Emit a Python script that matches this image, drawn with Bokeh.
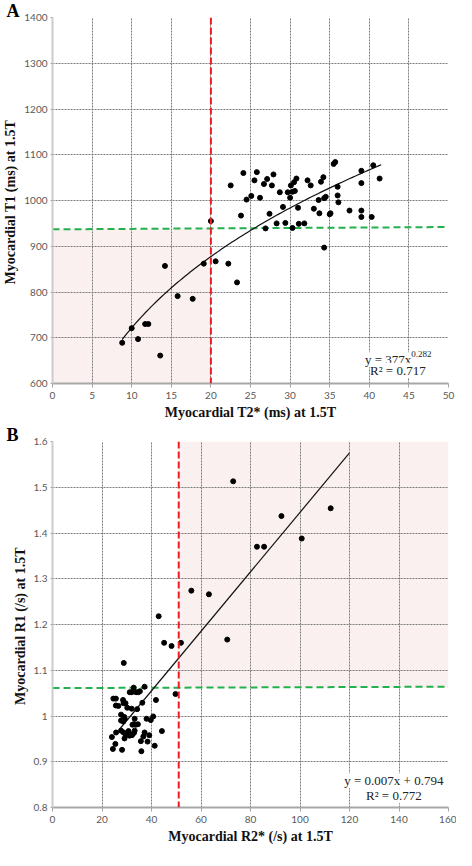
import numpy as np
from bokeh.plotting import figure
from bokeh.layouts import column
from bokeh.models import Label, FixedTicker, Range1d, Span
from bokeh.embed import file_html
from bokeh.resources import INLINE

# ---------------- Panel A data: T2* (ms) vs T1 (ms) ----------------
a_t2 = [8.8, 10.0, 10.8, 11.7, 12.1, 13.6, 14.2, 15.8, 17.7, 19.1,
        20.0, 20.6, 22.2, 22.5, 23.3, 23.8, 24.1, 24.5, 25.1, 25.5,
        25.8, 26.2, 26.7, 26.9, 27.1, 27.4, 27.7, 27.9, 28.3, 28.7,
        29.1, 29.4, 29.7, 30.0, 30.1, 30.3, 30.3, 30.5, 30.6, 30.8,
        31.0, 31.1, 31.8, 32.2, 32.6, 33.0, 33.6, 33.7, 33.9, 34.2,
        34.3, 34.3, 34.5, 35.0, 35.1, 35.5, 35.7, 36.0, 36.0, 36.1,
        37.5, 39.0, 39.0, 39.0, 39.0, 40.3, 40.5, 41.3]
a_t1 = [689, 721, 697, 730, 730, 661, 857, 791, 785, 862,
        955, 867, 862, 1033, 821, 967, 1060, 1002, 1010, 1044,
        1062, 1006, 1036, 939, 1047, 971, 1033, 1057, 950, 1018,
        986, 951, 1018, 1006, 1033, 1019, 940, 1040, 1021, 1048,
        984, 949, 950, 1044, 1033, 982, 1001, 972, 1041, 1051,
        897, 1005, 1008, 970, 972, 1080, 1084, 1030, 1011, 996,
        978, 1065, 1038, 978, 964, 964, 1077, 1048]

A_XTICKS = [0, 5, 10, 15, 20, 25, 30, 35, 40, 45, 50]
A_YTICKS = [600, 700, 800, 900, 1000, 1100, 1200, 1300, 1400]
A_COEF, A_EXP = 377, 0.282           # y = 377 x^0.282
A_TREND_X = [8.8, 41.5]
A_THRESH_X = 20                       # T2* threshold
A_NORMAL_X = [0, 50]
A_NORMAL_T1 = [937, 942]              # lower normal limit of T1

# ---------------- Panel B data: R2* (/s) vs R1 (/s) ----------------
b_r2 = [24.4, 24.0, 25.4, 25.7, 24.6, 25.6, 25.6, 26.6, 27.7, 27.7,
        28.1, 28.5, 28.7, 29.5, 30.2, 29.0, 29.2, 28.6, 27.7, 28.7,
        29.5, 29.1, 30.7, 31.1, 32.1, 32.9, 33.2, 32.3, 32.9, 33.6,
        34.5, 33.2, 32.0, 31.2, 32.0, 32.8, 33.8, 34.7, 34.2, 35.3,
        36.3, 37.2, 35.7, 36.7, 37.2, 38.0, 38.4, 39.1, 39.7, 40.7,
        35.9, 41.3, 44.2, 41.8, 49.7, 28.8, 45.1, 48.1, 51.9, 42.9,
        56.1, 63.2, 70.6, 73.0, 82.6, 85.5, 92.5, 100.7, 112.4]
b_r1 = [0.928, 0.954, 0.939, 0.964, 1.038, 1.038, 1.023, 1.022, 1.003, 0.990,
        0.926, 1.035, 1.028, 1.028, 1.018, 0.998, 0.994, 0.988, 0.968, 0.964,
        0.960, 0.951, 0.967, 0.957, 0.958, 0.963, 0.968, 0.981, 0.982, 0.981,
        0.982, 0.994, 1.016, 1.052, 1.052, 1.062, 1.052, 1.052, 1.015, 1.054,
        1.029, 1.064, 0.945, 0.955, 0.964, 0.994, 0.944, 0.958, 0.991, 0.999,
        0.923, 0.935, 0.967, 1.035, 1.048, 1.116, 1.160, 1.153, 1.160, 1.218,
        1.274, 1.266, 1.167, 1.513, 1.370, 1.370, 1.437, 1.388, 1.454]

B_XTICKS = [0, 20, 40, 60, 80, 100, 120, 140, 160]
B_YTICKS = [0.8, 0.9, 1.0, 1.1, 1.2, 1.3, 1.4, 1.5, 1.6]
B_YTICK_LABELS = ["0.8", "0.9", "1", "1.1", "1.2", "1.3", "1.4", "1.5", "1.6"]
B_SLOPE, B_INTERCEPT = 0.0065, 0.795  # shown as y = 0.007x + 0.794
B_TREND_X = [27, 120]
B_THRESH_X = 51                       # R2* threshold
B_NORMAL_X = [0, 160]
B_NORMAL_R1 = [1.061, 1.064]          # upper normal limit of R1

SERIF = "Liberation Serif"
SANS = "Lato"
PINK = "#f9f0ef"


def style(p, xticks, yticks, panel_letter, ylabels=None):
    p.background_fill_color = "white"
    p.border_fill_color = "white"
    p.outline_line_color = None
    for g in (p.xgrid, p.ygrid):
        g.grid_line_color = "#7a7a7a"
        g.grid_line_dash = "2 1"
        g.grid_line_width = 1
    p.xaxis.ticker = FixedTicker(ticks=xticks)
    p.yaxis.ticker = FixedTicker(ticks=yticks)
    p.xgrid.ticker = FixedTicker(ticks=xticks)
    p.ygrid.ticker = FixedTicker(ticks=yticks)
    if ylabels is not None:
        p.yaxis.major_label_overrides = {t: l for t, l in zip(yticks, ylabels)}
    for ax in (p.xaxis, p.yaxis):
        ax.major_label_text_font = SANS
        ax.major_label_text_font_size = "10px"
        ax.major_label_text_color = "#595959"
        ax.axis_label_text_font = SERIF
        ax.axis_label_text_font_style = "bold"
        ax.axis_label_text_font_size = "14px"
        ax.axis_label_text_color = "#111111"
        ax.minor_tick_line_color = None
        ax.major_tick_in = 0
        ax.axis_line_width = 2
    p.xaxis.axis_line_color = "#a8a8a8"
    p.xaxis.major_tick_line_color = "#a8a8a8"
    p.xaxis.major_tick_out = 4
    p.xaxis.major_label_standoff = 4
    p.xaxis.axis_label_standoff = 3
    p.yaxis.axis_line_color = "#cccccc"
    p.yaxis.major_tick_line_color = "#a8a8a8"
    p.yaxis.major_tick_out = 2
    p.yaxis.major_label_standoff = 3
    p.yaxis.axis_label_standoff = 3
    # panel letter as a compact title at the top-left corner
    t = p.title
    t.text = panel_letter
    t.align = "left"
    t.offset = -46
    t.standoff = -6
    t.text_font = SERIF
    t.text_font_style = "bold"
    t.text_font_size = "18px"
    t.text_color = "#000000"


# ---------------- Panel A ----------------
pa = figure(width=456, height=424, output_backend="svg", toolbar_location=None,
            x_range=Range1d(0, 50), y_range=Range1d(600, 1400),
            min_border_left=47, min_border_right=8, min_border_top=17, min_border_bottom=41,
            x_axis_label="Myocardial T2* (ms) at 1.5T",
            y_axis_label="Myocardial T1 (ms)  at 1.5T")
style(pa, A_XTICKS, A_YTICKS, "A")

sa = pa.quad(left=[A_NORMAL_X[0]], right=[A_THRESH_X], bottom=[A_YTICKS[0]], top=[A_NORMAL_T1[0]],
             fill_color=PINK, line_color=None)
sa.level = "image"

pa.line(A_NORMAL_X, A_NORMAL_T1, line_color="#22b14c", line_width=2, line_dash="7 4")
pa.add_layout(Span(location=A_THRESH_X, dimension="height", line_color="#ee1c24",
                   line_width=2, line_dash="7 3"))

xa = np.linspace(A_TREND_X[0], A_TREND_X[1], 100)
pa.line(xa, A_COEF * xa ** A_EXP, line_color="#111111", line_width=1.2)

pa.scatter(a_t2, a_t1, size=5, fill_color="#000000", line_color="#000000")

pa.add_layout(Label(x=45.3, y=652, text="y = 377x", text_align="right", text_baseline="alphabetic",
                    text_font=SERIF, text_font_size="13px", text_color="#222222",
                    background_fill_color="white"))
pa.add_layout(Label(x=45.3, y=664, text="0.282", text_align="left", text_baseline="alphabetic",
                    text_font=SERIF, text_font_size="9px", text_color="#222222",
                    background_fill_color="white"))
pa.add_layout(Label(x=43.6, y=629, text="R² = 0.717", text_align="center", text_baseline="middle",
                    text_font=SERIF, text_font_size="13px", text_color="#222222",
                    background_fill_color="white"))

# ---------------- Panel B ----------------
pb = figure(width=456, height=423, output_backend="svg", toolbar_location=None,
            x_range=Range1d(0, 160), y_range=Range1d(0.8, 1.6),
            min_border_left=47, min_border_right=8, min_border_top=17, min_border_bottom=40,
            x_axis_label="Myocardial R2* (/s) at 1.5T",
            y_axis_label="Myocardial R1 (/s)  at 1.5T")
style(pb, B_XTICKS, B_YTICKS, "B", B_YTICK_LABELS)

sb = pb.quad(left=[B_THRESH_X], right=[B_NORMAL_X[1]], bottom=[B_NORMAL_R1[0]], top=[B_YTICKS[-1]],
             fill_color=PINK, line_color=None)
sb.level = "image"

pb.line(B_NORMAL_X, B_NORMAL_R1, line_color="#22b14c", line_width=2, line_dash="7 4")
pb.add_layout(Span(location=B_THRESH_X, dimension="height", line_color="#ee1c24",
                   line_width=2, line_dash="7 3"))

xb = np.array(B_TREND_X, dtype=float)
pb.line(xb, B_SLOPE * xb + B_INTERCEPT, line_color="#111111", line_width=1.2)

pb.scatter(b_r2, b_r1, size=5, fill_color="#000000", line_color="#000000")

pb.add_layout(Label(x=137.9, y=0.8587, text="y = 0.007x + 0.794", text_align="center",
                    text_baseline="middle", text_font=SERIF, text_font_size="13px",
                    text_color="#222222", background_fill_color="white"))
pb.add_layout(Label(x=137.9, y=0.8255, text="R² = 0.772", text_align="center",
                    text_baseline="middle", text_font=SERIF, text_font_size="13px",
                    text_color="#222222", background_fill_color="white"))

layout = column(pa, pb)
open("out.html", "w").write(file_html(layout, INLINE))
